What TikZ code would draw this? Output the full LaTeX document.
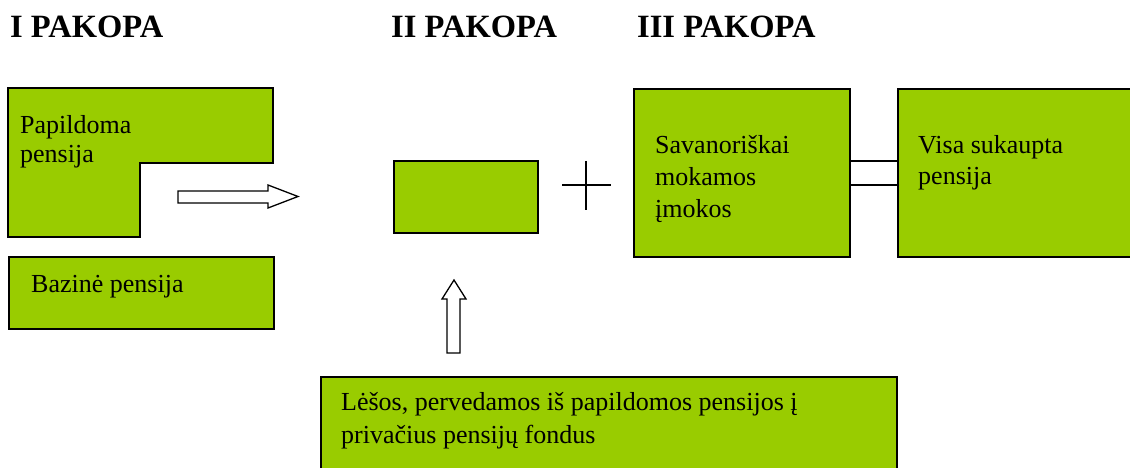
\documentclass[tikz,border=0pt]{standalone}
\usepackage{fontspec}
\setmainfont{Liberation Serif}
\usetikzlibrary{positioning}

\definecolor{pakopa}{HTML}{99CC00}

\begin{document}
\begin{tikzpicture}[x=1pt,y=-1pt,
  box/.style={draw,fill=pakopa,line width=1.3pt,inner sep=0pt,outer sep=0pt,anchor=north west},
  txt/.style={font=\fontsize{26}{31}\selectfont,align=left,anchor=base west,inner sep=0pt},
  hdr/.style={font=\fontsize{32.5}{36}\selectfont\bfseries,anchor=base west,inner sep=0pt},
  hollow/.style={draw,fill=white,line width=1.3pt,line join=miter}]
  \clip (0,0) rectangle (1130,468);

  % headings
  \node[hdr] (pak1) at (10,38) {I PAKOPA};
  \node[hdr] (pak2) at (391,38) {II PAKOPA};
  \node[hdr] (pak3) at (637,38) {III PAKOPA};

  % I pakopa (base anchor = last line)
  \draw[box] (8,88) -- (273,88) -- (273,163) -- (140,163) -- (140,237) -- (8,237) -- cycle;
  \node[txt,font=\fontsize{26}{29}\selectfont] (papildoma) at (20,163) {Papildoma\\pensija};
  \node[box,minimum width=265pt,minimum height=72pt] (bazine) at (9,257) {};
  \node[txt] (bazinetxt) at (31,292) {Bazinė pensija};
  \draw[hollow] (178,191) -- (268,191) -- (268,185) -- (298,196.5)
    -- (268,208) -- (268,203) -- (178,203) -- cycle;

  % II pakopa
  \node[box,line width=2pt,minimum width=144pt,minimum height=72pt] (antra) at (394,161) {};
  \draw[line width=1.5pt] (562,185) -- (611,185) (586,161) -- (586,210);
  \node[box,minimum width=576pt,minimum height=100pt] (lesos) at (321,377) {};
  \node[txt,font=\fontsize{26}{33}\selectfont] (lesostxt) at (341,443)
    {Lėšos, pervedamos iš papildomos pensijos į\\privačius pensijų fondus};
  \draw[hollow] (447,353) -- (447,299) -- (442,299) -- (454,280)
    -- (466,299) -- (460,299) -- (460,353) -- cycle;

  % III pakopa
  \node[box,minimum width=216pt,minimum height=168pt] (savan) at (634,89) {};
  \node[txt,font=\fontsize{26}{32}\selectfont] (savantxt) at (655,217)
    {Savanoriškai\\mokamos\\įmokos};
  \node[box,minimum width=240pt,minimum height=168pt] (visa) at (898,89) {};
  \node[txt,font=\fontsize{26}{32}\selectfont] (visatxt) at (918,185)
    {Visa sukaupta\\pensija};
  \draw[line width=1.3pt] (savan.east |- 0,161) -- (visa.west |- 0,161)
    (savan.east |- 0,185) -- (visa.west |- 0,185);
\end{tikzpicture}
\end{document}
